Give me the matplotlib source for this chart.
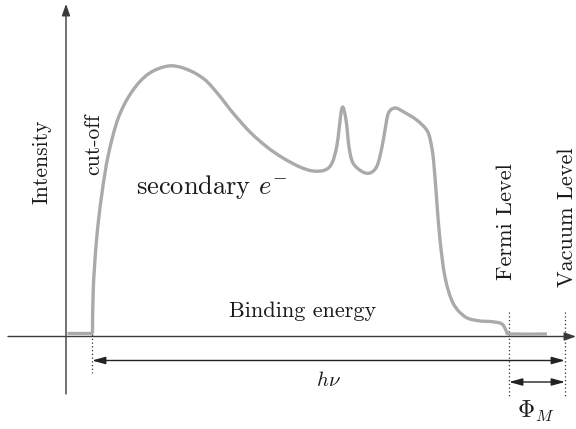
import matplotlib
matplotlib.use("Agg")
import matplotlib.pyplot as plt
from matplotlib.path import Path
from matplotlib.patches import PathPatch

plt.rcParams["font.family"] = "serif"
plt.rcParams["font.serif"] = ["cmr10", "DejaVu Serif"]
plt.rcParams["mathtext.fontset"] = "cm"
plt.rcParams["axes.unicode_minus"] = False

# Schematic photoemission spectrum (binding-energy position, intensity), canvas units
# Flat background below the cut-off
base_energy = [67, 92.5]
base_intensity = [333, 333]
# Spectrum from the cut-off to past the Fermi level
energy = [92.5, 93.3, 96.7, 101.7, 108.3, 118.3, 131.7, 148.3, 168.3, 186, 204, 218,
          233, 250, 267, 283, 300, 313, 325, 332, 337, 342, 346, 349, 353, 362,
          370, 377, 382, 385, 388.5, 395, 403.3, 416.7, 426.7, 430.5, 433.5, 436.7,
          440, 445, 453, 465, 478, 492, 502, 507, 511, 547]
intensity = [333, 288, 238, 195, 155, 118, 92, 74, 66, 69, 79, 94,
             113, 132, 147, 158, 167, 171, 170, 163, 145, 108, 120, 147, 163, 171.5,
             173, 166, 147, 130, 113, 108, 111.7, 120, 130, 141, 160, 200,
             240, 277, 303, 316.7, 320.7, 321.7, 324, 332, 334, 334]

# Reference levels
cutoff_x = 92
fermi_x = 509
vacuum_x = 565


def smooth_path(xs, ys):
    """Cubic Bezier path through the points (Catmull-Rom tangents)."""
    pts = list(zip(xs, ys))
    n = len(pts)
    verts = [pts[0]]
    codes = [Path.MOVETO]
    for i in range(n - 1):
        p0 = pts[i - 1] if i > 0 else pts[i]
        p1 = pts[i]
        p2 = pts[i + 1]
        p3 = pts[i + 2] if i + 2 < n else pts[i + 1]
        c1 = (p1[0] + (p2[0] - p0[0]) / 6, p1[1] + (p2[1] - p0[1]) / 6)
        c2 = (p2[0] - (p3[0] - p1[0]) / 6, p2[1] - (p3[1] - p1[1]) / 6)
        verts += [c1, c2, p2]
        codes += [Path.CURVE4] * 3
    return Path(verts, codes)


fig = plt.figure(figsize=(5.76, 4.29), dpi=100)
ax = fig.add_axes([0, 0, 1, 1])
ax.set_xlim(0, 576)
ax.set_ylim(429, 0)
ax.axis("off")

axis_col = "#3a3a3a"
# Coordinate axes with arrow heads
ax.annotate("", xy=(576, 336.5), xytext=(8, 336.5),
            arrowprops=dict(arrowstyle="-|>,head_length=0.7,head_width=0.25",
                            color=axis_col, lw=1.0, shrinkA=0, shrinkB=0))
ax.annotate("", xy=(66, 4), xytext=(66, 394),
            arrowprops=dict(arrowstyle="-|>,head_length=0.7,head_width=0.25",
                            color=axis_col, lw=1.0, shrinkA=0, shrinkB=0))

# Spectrum
curve_col = "#aaaaaa"
ax.plot(base_energy, base_intensity, color=curve_col, lw=2.4,
        solid_capstyle="butt", zorder=3)
ax.add_patch(PathPatch(smooth_path(energy, intensity), facecolor="none",
                       edgecolor=curve_col, lw=2.4, joinstyle="round",
                       capstyle="butt", zorder=3))

# Dotted markers at the levels
ax.plot([cutoff_x, cutoff_x], [312, 373], color="#333333", lw=0.9, ls=(0, (1, 2)))
ax.plot([fermi_x, fermi_x], [312, 397], color="#333333", lw=0.9, ls=(0, (1, 2)))
ax.plot([vacuum_x, vacuum_x], [312, 397], color="#333333", lw=0.9, ls=(0, (1, 2)))

# Energy spans
ax.annotate("", xy=(vacuum_x, 360.5), xytext=(cutoff_x, 360.5),
            arrowprops=dict(arrowstyle="<|-|>,head_length=0.8,head_width=0.22",
                            color="#222222", lw=1.0, shrinkA=0, shrinkB=0))
ax.annotate("", xy=(vacuum_x, 382), xytext=(fermi_x, 382),
            arrowprops=dict(arrowstyle="<|-|>,head_length=0.8,head_width=0.22",
                            color="#222222", lw=1.0, shrinkA=0, shrinkB=0))

txt = "#1a1a1a"
ax.text(42, 162, "Intensity", rotation=90, ha="center", va="center", fontsize=15.5, color=txt)
ax.text(93, 144, "cut-off", rotation=90, ha="center", va="center", fontsize=15.5, color=txt)
ax.text(212, 187, r"secondary $e^{-}$", ha="center", va="center", fontsize=19, color=txt)
ax.text(303, 311, "Binding energy", ha="center", va="center", fontsize=16, color=txt)
ax.text(506, 222, "Fermi Level", rotation=90, ha="center", va="center", fontsize=16, color=txt)
ax.text(567, 217, "Vacuum Level", rotation=90, ha="center", va="center", fontsize=16, color=txt)
ax.text(328, 380, r"$h\nu$", ha="center", va="center", fontsize=15, color=txt)
ax.text(536, 411, r"$\Phi_M$", ha="center", va="center", fontsize=17, color=txt)

fig.savefig("out.png", dpi=100)
